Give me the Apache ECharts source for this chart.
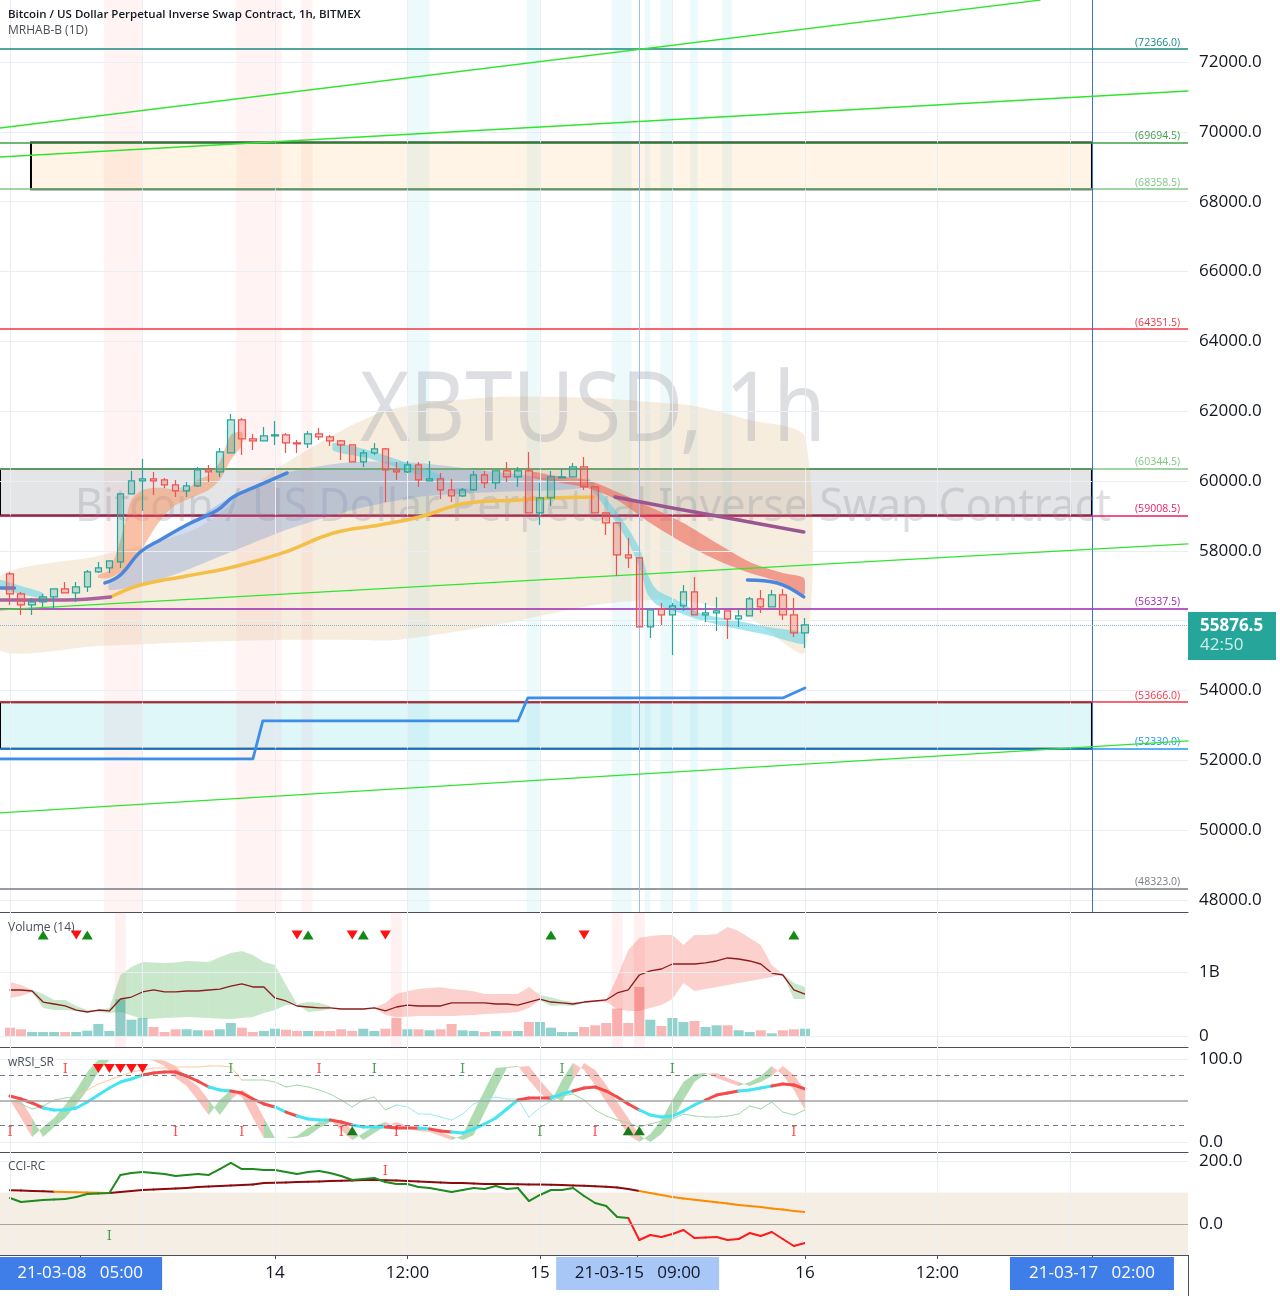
<!DOCTYPE html>
<html>
<head>
<meta charset="utf-8">
<title>XBTUSD 1h</title>
<script src="https://cdn.jsdelivr.net/npm/echarts@6.0.0/dist/echarts.min.js"></script>
<style>
html,body{margin:0;padding:0;background:#ffffff;}
#chart{width:1280px;height:1296px;}
</style>
</head>
<body>
<div id="chart"></div>
<script>
// ================= DATA =================
// hourly candles, index 0 = 21-03-13 00:00 ... index 72 = 21-03-16 00:00
const candleOpen = [57338,56765,56450,56536,56680,56909,56794,56966,57396,57510,57682,59629,60001,60059,60030,59887,59715,59858,60317,60259,60803,61748,61204,61147,61290,61319,61090,61061,61347,61262,61147,61032,60545,60803,60918,60317,60259,60460,60001,60059,59744,59572,59744,60173,59944,60288,60116,60288,59085,59515,60087,60116,60402,59830,59085,58799,57883,57797,55821,56336,56164,56422,56822,56164,56222,56279,56050,56136,56622,56393,56737,56164,55649];
const candleClose = [56765,56450,56536,56680,56909,56794,56966,57396,57510,57711,59629,60001,60059,60001,59887,59715,59858,60317,60259,60832,61748,61204,61147,61290,61319,61090,61061,61347,61262,61147,61032,60545,60803,60918,60317,60259,60460,60030,60059,59744,59572,59744,60173,59944,60288,60116,60288,59085,59515,60116,60116,60402,59830,59085,58799,57883,57797,55821,56308,56164,56422,56822,56164,56222,56279,56050,56136,56622,56393,56737,56164,55649,55876.5];
const candleLow = [56450,56164,56164,56393,56308,56794,56536,56822,57367,57367,57510,59629,59142,59600,59801,59543,59543,59830,59973,60116,60803,60746,60889,61147,61032,60803,60803,60946,61176,61004,60603,60545,60402,60746,59400,60030,60231,59830,60001,59486,59400,59543,59715,59801,59772,59973,59830,59085,58742,59286,60087,60116,59744,59085,58456,57281,57510,55821,55506,55878,55020,56279,56164,55964,55707,55478,55821,56136,56222,56393,56022,55535,55220];
const candleHigh = [57396,56822,56651,56765,56909,57109,57109,57453,57682,57711,59629,60288,60631,60259,60087,60030,59973,60402,60460,60946,61920,61806,61347,61548,61720,61376,61176,61433,61519,61319,61176,61032,60889,61090,60946,60545,60574,60545,60574,60231,60059,59801,60288,60288,60288,60545,60402,60832,59944,60288,60345,60517,60689,59830,59085,58799,58369,57797,56308,56508,56508,57023,57252,56508,56680,56279,56336,56680,56880,56880,56909,56651,56079];
const lastPrice = 55876.5;
const countdown = '42:50';

// volume (millions of contracts) and its average band
const volumeM = [130,105,62,62,62,62,62,83,188,78,573,255,281,141,62,105,105,89,89,105,203,130,62,78,114,98,78,78,78,78,105,78,114,78,114,281,105,105,89,105,188,89,78,62,78,78,78,219,219,130,62,62,141,167,203,427,203,766,255,156,281,219,234,141,167,167,89,62,89,42,89,105,114];
const volumeMA = [719,719,703,531,500,469,406,375,406,391,578,609,688,719,688,688,703,703,719,734,781,813,766,766,594,547,469,453,438,438,422,422,422,438,391,453,484,469,469,469,516,516,516,516,500,500,484,531,578,531,516,500,531,547,563,672,719,953,1016,1047,1125,1125,1125,1141,1172,1219,1203,1172,1125,984,953,719,656];
const volBandUp = [844,797,719,656,563,563,469,406,406,438,953,1078,1156,1150,1141,1150,1172,1165,1156,1230,1297,1328,1266,1156,1109,797,500,531,516,469,null,null,null,438,516,656,700,734,750,760,734,720,700,656,656,656,656,766,640,600,560,530,540,560,563,922,1344,1531,1563,1578,1578,1422,1578,1578,1594,1703,1641,1531,1422,1109,969,828,766];
const volBandLo = [594,625,688,438,406,406,391,375,375,359,375,320,266,270,280,290,297,290,280,270,266,280,297,359,406,484,500,375,391,422,null,null,null,438,328,297,300,313,313,313,313,320,330,344,350,360,375,438,560,470,480,470,520,530,531,422,391,391,438,484,578,828,703,734,766,797,828,859,891,922,969,578,578];
const volBandColor = 'rrr' + 'ggggggggggggggggggggggggggg' + 'nnnn' + 'rrrrrrrrrrrrrrr' + 'gggg' + 'rrrrrrrrrrrrrrrrrr' + 'gg';
const volUpMarks = [3, 7, 27, 32, 49, 71];
const volDownMarks = [6, 26, 31, 34, 52];

// wRSI_SR
const wrsiWave = [50.6,28.9,6.0,18.1,28.9,44.6,62.7,84.3,99,100,100,100,100,98,91.6,77.1,67.5,50.6,32.5,50.6,62.7,54.2,28.9,4.8,4.8,4.8,7.2,16.9,24.1,26.5,14.5,2.4,10.8,19.3,24.1,19.3,16.9,13.3,12.0,7.2,2.4,8.4,36.1,62.7,89.2,90.4,91.6,74.7,59.0,48.2,74.7,95.2,86.7,68.7,48.2,28.9,8.4,0,9.6,26.5,50.6,72.3,81.9,83.1,77.1,72.3,67.5,72.3,79.5,91.6,80.7,62.7,38.6];
const wrsiThick = [55.4,51.8,47.0,41.0,38.6,38.6,41.0,48.2,56.6,65.1,72.3,75.9,80.7,83.1,84.3,84.3,79.5,73.5,66.3,62.7,61.4,59.0,51.8,45.8,42.2,36.1,31.3,27.7,26.5,26.5,24.1,20.5,18.1,18.1,18.1,16.9,16.9,16.9,15.7,13.3,12.0,10.8,15.7,21.7,28.9,39.8,50.6,53.0,53.0,53.0,57.8,61.4,65.1,66.3,61.4,54.2,45.8,38.6,32.5,30.1,31.3,37.3,44.6,50.6,56.6,59.0,61.4,62.7,65.1,67.5,69.9,68.7,63.9];
const wrsiThickColor = 'c' + 'rrr' + 'ccccccccc' + 'rrrrrr' + 'cc' + 'rrrr' + 'c' + 'r' + 'ccc' + 'rr' + 'ccc' + 'rrr' + 'c' + 'rr' + 'cccccc' + 'rrr' + 'cc' + 'rrrrrr' + 'cccccc' + 'rrr' + 'ccc' + 'rrr';
const wrsiThin = [50.6,45.8,39.8,43.4,50.6,53.0,54.2,62.7,69.9,74.7,79.5,84.3,86.7,89.2,89.2,90.4,90.4,90.4,91.6,91.6,90.4,74.7,74.7,74.7,72.3,66.3,68.7,66.3,62.7,57.8,50.6,42.2,50.6,54.2,38.6,44.6,42.2,33.7,33.7,30.1,26.5,33.7,45.8,50.6,54.2,51.8,51.8,30.1,41.0,49.4,55.4,57.8,50.6,38.6,31.3,26.5,22.9,18.1,21.7,25.3,27.7,33.7,31.3,30.1,30.1,31.3,33.7,43.4,39.8,48.2,36.1,32.5,38.6];
const wrsiThinColor = 'ggggggg' + 'ooooooooooooooo' + 'gggggggggggggg' + 'cccccccccccccc' + 'ggggggggggggggggggggggg';
const wrsiRedITop = [5, 28];
const wrsiRedIBottom = [0, 15, 21, 30, 35, 53, 71];
const wrsiGreenITop = [20, 33, 41, 50, 60];
const wrsiGreenIBottom = [48];
const wrsiDownMarks = [8, 9, 10, 11, 12];
const wrsiUpMarks = [31, 56, 57];

// CCI-RC
const cciSlow = [107.3,106.0,104.8,103.8,102.5,101.6,101.0,100.0,99.4,98.4,101.6,104.8,107.9,109.5,111.1,112.7,114.3,117.5,119.0,120.6,122.2,123.8,125.4,130.2,130.8,131.7,133.3,134.0,134.9,136.5,137.1,138.1,139.7,139.7,139.0,138.1,136.5,134.9,133.3,131.7,130.2,130.2,128.6,127.0,127.0,127.0,126.0,125.4,125.1,124.4,123.8,122.5,121.3,119.7,118.4,115.9,111.1,104.8,98.4,92.1,85.7,81.0,76.8,73.0,68.9,65.1,60.3,57.1,54.0,49.2,46.0,41.3,38.1];
const cciSlowColor = 'ddddd' + 'ooooo' + 'dddddddddddddddddddddddddddddddddddddddddddddddd' + 'ooooooooooooooo';
const cciFast = [82.5,69.8,73.0,76.2,77.8,79.4,85.7,95.2,96.8,98.4,155.6,161.9,165.1,161.9,158.7,152.4,155.6,158.7,155.6,174.6,193.7,174.6,174.6,171.4,171.4,165.1,158.7,165.1,168.3,161.9,152.4,139.7,142.9,146.0,133.3,127.0,127.0,117.5,114.3,107.9,101.6,107.9,114.3,111.1,120.6,111.1,114.3,73.0,92.1,107.9,107.9,114.3,88.9,66.7,57.1,22.2,19.0,-50.8,-34.9,-41.3,-31.7,-19.0,-44.4,-42.9,-41.3,-50.8,-47.6,-28.6,-38.1,-25.4,-47.6,-69.8,-60.3];
const cciFastColor = 'ggggggggggggggggggggggggggggggggggggggggggggggggggggggggg' + 'rrrrrrrrrrrrrrrr';
const cciRedI = [34];
const cciGreenI = [9];

// price-pane overlays (hour, price)
const cloudHours = [-1, 8, 17, 24, 31, 35, 44, 53, 58, 62, 67, 72];
const cloudUpper = [57252, 57853, 58655, 60316, 61604, 62091, 62406, 62378, 62263, 62148, 61747, 61261];
const cloudLower = [55161, 55276, 55390, 55448, 55448, 55448, 55877, 56450, 56593, 56536, 56077, 55104];
const blueRibHours = [9, 12, 16, 20, 25, 31, 37, 44, 50, 52.5];
const blueRibUpper = [57080, 57968, 58741, 59543, 60230, 60545, 60516, 60259, 60029, 59858];
const blueRibLower = [56880, 57023, 57452, 57968, 58598, 59170, 59543, 59686, 59743, 59829];
const orRibHours = [8, 9, 10, 11, 12, 13, 14, 15, 16, 17, 18, 19, 20, 21];
const orRibUpper = [57309, 57452, 58311, 59457, 59743, 59801, 59801, 59743, 59743, 60029, 60173, 60545, 61318, 61404];
const orRibLower = [57223, 57223, 57395, 57681, 58082, 58598, 59027, 59313, 59457, 59600, 59743, 60029, 60602, 61032];
const cyanAHours = [-1, 1, 3];
const cyanAUpper = [57166, 56995, 56794];
const cyanALower = [56937, 56765, 56651];
const cyanBHours = [29.3, 32.4, 34.7, 37.1, 39.3];
const cyanBUpper = [61089, 60889, 60660, 60402, 60116];
const cyanBLower = [60860, 60660, 60431, 60173, 59915];
const cyanCHours = [52.3, 54.1, 55.9, 57.1, 57.7, 58.6, 60.4, 62.5, 65.5, 68.6, 71.9];
const cyanCUpper = [60115, 59457, 58684, 58025, 57366, 56880, 56593, 56221, 56020, 55820, 55648];
const cyanCLower = [59944, 59170, 58311, 57452, 56794, 56450, 56249, 56020, 55791, 55591, 55333];
const redRibHours = [47.4, 48.9, 52.3, 55.0, 58.0, 61.0, 64.0, 67.0, 70.0, 71.9];
const redRibUpper = [60259, 60173, 60029, 59686, 59256, 58798, 58225, 57681, 57366, 57223];
const redRibLower = [60087, 60001, 59801, 59457, 58798, 58225, 57738, 57366, 57080, 56737];
const blueLine1Hours = [-1, 0.4];
const blueLine1 = [56937, 56937];
const blueLine2Hours = [8.6, 10, 11.8, 13.6, 16, 18.8, 20.2, 22, 25.1];
const blueLine2 = [57080, 57309, 57968, 58311, 58741, 59170, 59543, 59801, 60230];
const blueLine3Hours = [66.8, 69.5, 71.9];
const blueLine3 = [57166, 57080, 56679];
const yellowHours = [9.1, 11.8, 16, 20.2, 24.7, 29.3, 33.5, 37.1, 41.4, 46.2, 48.9, 52.8];
const yellowLine = [56679, 57023, 57280, 57538, 57939, 58512, 58741, 58970, 59371, 59457, 59514, 59543];
const purple1Hours = [-1, 5, 9.1];
const purple1 = [56594, 56594, 56679];
const purple2Hours = [54.8, 59.5, 65.5, 71.9];
const purple2 = [59543, 59256, 58913, 58541];

// drawings
const levelPrices = [72366.0, 69694.5, 68358.5, 64351.5, 60344.5, 59008.5, 56337.5, 53666.0, 52330.0, 48323.0];
const levelColors = ['#17897e', '#43a047', '#81c784', '#f23645', '#81c784', '#e91e63', '#9c27b0', '#f23645', '#2196f3', '#787b86'];
const rectStart = [1.9, -2, -2];
const rectEnd = [98, 98, 98];
const rectTop = [69694.5, 60344.5, 53666.0];
const rectBottom = [68358.5, 59008.5, 52330.0];
const trendAHours = [-0.906, 93.3];
const trendA = [70110, 73775];
const trendHours = [-0.906, 106.7];
const trendB = [69279, 71170];
const trendC = [56307, 58197];
const trendD = [50494, 52556];
const stepHours = [-0.906, 22.0, 22.9, 46.0, 46.9, 70.0, 72.0];
const stepPrices = [52040, 52040, 53128, 53128, 53787, 53787, 54073];
const pinkBands = [[8.5, 12.0], [20.5, 24.6], [26.4, 27.4]];
const cyanBands = [[36.0, 38.0], [46.8, 48.0], [54.5, 56.3], [57.5, 58.0], [58.9, 60.0], [61.6, 62.3], [64.5, 65.4]];
const volPinkBands = [[9.5, 10.5], [34.5, 35.5], [54.5, 55.5], [56.5, 57.5]];
const cursorHour = 57;
const markerHour = 98;

// axes ticks
const priceTicks = [48000, 50000, 52000, 54000, 56000, 58000, 60000, 62000, 64000, 66000, 68000, 70000, 72000];
const volTicks = [0, 1000];
const wrsiTicks = [0, 100];
const cciTicks = [0, 200];
const gridHours = [0, 12, 24, 36, 48, 60, 72, 84, 96];
const timeTickHours = [6.35, 24, 36, 48, 56.85, 72, 84, 98];
const timeTickLabels = ['21-03-08   05:00', '14', '12:00', '15', '21-03-15   09:00', '16', '12:00', '21-03-17   02:00'];
const timeTickStyle = ['dark', 'p', 'p', 'p', 'light', 'p', 'p', 'dark'];

// ================= CHART =================
const FONT = '"Open Sans", "Noto Sans", sans-serif';
const XMIN = -0.906, XMAX = 106.7;
const chart = echarts.init(document.getElementById('chart'), null, {renderer: 'canvas'});

function pairs(hs, vs) { return hs.map((h, i) => [h, vs[i]]); }
function lineS(p, hs, vs, color, width, z, smooth, type) {
  return {type: 'line', xAxisIndex: p, yAxisIndex: p, data: pairs(hs, vs), symbol: 'none', silent: true,
    smooth: smooth || 0, lineStyle: {color: color, width: width, cap: 'round', join: 'round', type: type || 'solid'}, z: z, clip: true};
}
function bandS(p, hs, up, lo, color, z) {
  return {type: 'custom', xAxisIndex: p, yAxisIndex: p, silent: true, z: z, clip: true,
    data: [[hs[0], up[0]]],
    renderItem: function (params, api) {
      const pts = [];
      for (let i = 0; i < hs.length; i++) pts.push(api.coord([hs[i], up[i]]));
      for (let i = hs.length - 1; i >= 0; i--) pts.push(api.coord([hs[i], lo[i]]));
      return {type: 'polygon', shape: {points: pts, smooth: 0.25}, style: {fill: color}};
    }};
}
function segLine(p, vals, codes, cmap, width, z) {
  const d = [];
  for (let i = 1; i < vals.length; i++) d.push([i, vals[i]]);
  return {type: 'custom', xAxisIndex: p, yAxisIndex: p, silent: true, z: z, clip: true, data: d,
    renderItem: function (params, api) {
      const i = api.value(0);
      const a = api.coord([i - 1, vals[i - 1]]), b = api.coord([i, vals[i]]);
      return {type: 'line', shape: {x1: a[0], y1: a[1], x2: b[0], y2: b[1]},
        style: {stroke: cmap[codes[i]], lineWidth: width, lineCap: 'round'}};
    }};
}
function barBand(p, up, lo, codes, cmap, z) {
  const d = [];
  for (let i = 1; i < up.length; i++) if (codes[i] !== 'n' && up[i] != null && up[i - 1] != null) d.push([i, up[i]]);
  return {type: 'custom', xAxisIndex: p, yAxisIndex: p, silent: true, z: z, clip: true, data: d,
    renderItem: function (params, api) {
      const i = api.value(0);
      const pts = [api.coord([i - 1, up[i - 1]]), api.coord([i, up[i]]), api.coord([i, lo[i]]), api.coord([i - 1, lo[i - 1]])];
      return {type: 'polygon', shape: {points: pts}, style: {fill: cmap[codes[i]]}};
    }};
}
function lagRibbon(p, a, green, red, z) {
  const d = [];
  for (let i = 1; i < a.length; i++) d.push([i, a[i]]);
  return {type: 'custom', xAxisIndex: p, yAxisIndex: p, silent: true, z: z, clip: true, data: d,
    renderItem: function (params, api) {
      const i = api.value(0);
      const prev2 = a[Math.max(i - 2, 0)];
      const pts = [api.coord([i - 1, a[i - 1]]), api.coord([i, a[i]]), api.coord([i, a[i - 1]]), api.coord([i - 1, prev2])];
      return {type: 'polygon', shape: {points: pts}, style: {fill: a[i] >= a[i - 1] ? green : red}};
    }};
}
function markS(p, hs, yv, symbol, rot, color, size, z) {
  return {type: 'scatter', xAxisIndex: p, yAxisIndex: p, silent: true, z: z, symbol: symbol, symbolRotate: rot,
    symbolSize: size, data: hs.map(h => [h, yv]), itemStyle: {color: color, opacity: 1}};
}
function letterS(p, hs, yv, color, z) {
  return {type: 'scatter', xAxisIndex: p, yAxisIndex: p, silent: true, z: z, symbol: 'rect', symbolSize: 1,
    data: hs.map(h => [h, yv]), itemStyle: {color: 'rgba(0,0,0,0)'},
    label: {show: true, position: 'inside', formatter: 'I', color: color, fontSize: 13, fontFamily: '"DejaVu Serif", serif'}};
}
function gridS(p, yTicks) {
  const d = gridHours.map(h => ({xAxis: h}));
  yTicks.forEach(v => d.push({yAxis: v}));
  return {type: 'line', xAxisIndex: p, yAxisIndex: p, data: [], z: 0, silent: true,
    markLine: {silent: true, symbol: 'none', animation: false, label: {show: false},
      lineStyle: {color: '#e9eef4', width: 1, type: 'solid'}, emphasis: {disabled: true}, data: d}};
}

const xAxes = [0, 1, 2, 3].map(i => ({
  type: 'value', gridIndex: i, min: XMIN, max: XMAX, position: 'bottom',
  splitLine: {show: false},
  axisLine: {show: true, onZero: false, lineStyle: {color: '#4a4e5a', width: 1.2}},
  axisTick: i === 3 ? {show: true, customValues: timeTickHours, length: 4, lineStyle: {color: '#4a4e5a'}} : {show: false},
  axisLabel: i === 3 ? {
    show: true, customValues: timeTickHours, margin: 2, fontFamily: FONT,
    formatter: function (v) {
      const k = timeTickHours.indexOf(v);
      return '{' + timeTickStyle[k] + '|' + timeTickLabels[k] + '}';
    },
    rich: {
      p: {color: '#131722', fontSize: 17, height: 33, lineHeight: 33, fontFamily: FONT},
      dark: {color: '#ffffff', backgroundColor: '#3f7ee8', fontSize: 17, height: 33, lineHeight: 33, width: 164, align: 'center', fontFamily: FONT},
      light: {color: '#131722', backgroundColor: '#a8c6f6', fontSize: 17, height: 33, lineHeight: 33, width: 163, align: 'center', fontFamily: FONT}
    }
  } : {show: false}
}));

function yAx(i, min, max, ticks, fmt) {
  return {type: 'value', gridIndex: i, min: min, max: max, position: 'right', splitLine: {show: false},
    axisLine: {show: true, lineStyle: {color: '#4a4e5a', width: 1}},
    axisTick: {show: true, customValues: ticks, length: 5, lineStyle: {color: '#4a4e5a'}},
    axisLabel: {show: true, customValues: ticks, margin: 11, color: '#131722', fontSize: 17, fontFamily: FONT, formatter: fmt}};
}
const yAxes = [
  yAx(0, 47656, 73776, priceTicks, v => v.toFixed(1)),
  yAx(1, -171.9, 1937.5, volTicks, v => (v >= 1000 ? '1B' : '0')),
  yAx(2, -12.05, 114.46, wrsiTicks, v => v.toFixed(1)),
  yAx(3, -98.4, 228.6, cciTicks, v => v.toFixed(1))
];

const idx = candleOpen.map((_, i) => i);
const series = [];

// grid lines
series.push(gridS(0, priceTicks), gridS(1, volTicks), gridS(2, wrsiTicks), gridS(3, [200]));

// background highlight bands
series.push({type: 'line', xAxisIndex: 0, yAxisIndex: 0, data: [], z: 0, silent: true,
  markArea: {silent: true, animation: false, data:
    pinkBands.map(b => [{xAxis: b[0], itemStyle: {color: 'rgba(255,82,82,0.07)'}}, {xAxis: b[1]}])
      .concat(cyanBands.map(b => [{xAxis: b[0], itemStyle: {color: 'rgba(0,188,212,0.07)'}}, {xAxis: b[1]}]))}});
series.push({type: 'line', xAxisIndex: 1, yAxisIndex: 1, data: [], z: 0, silent: true,
  markArea: {silent: true, animation: false, data: volPinkBands.map(b => [{xAxis: b[0], itemStyle: {color: 'rgba(255,82,82,0.08)'}}, {xAxis: b[1]}])}});

// price overlays
series.push(bandS(0, cloudHours, cloudUpper, cloudLower, 'rgba(225,190,140,0.28)', 1));
series.push(bandS(0, blueRibHours, blueRibUpper, blueRibLower, 'rgba(110,150,215,0.33)', 3));
series.push(bandS(0, orRibHours, orRibUpper, orRibLower, 'rgba(244,150,100,0.55)', 3));
series.push(bandS(0, cyanAHours, cyanAUpper, cyanALower, 'rgba(90,210,225,0.55)', 3));
series.push(bandS(0, cyanBHours, cyanBUpper, cyanBLower, 'rgba(90,210,225,0.55)', 3));
series.push(bandS(0, cyanCHours, cyanCUpper, cyanCLower, 'rgba(90,210,225,0.55)', 3));
series.push(bandS(0, redRibHours, redRibUpper, redRibLower, 'rgba(236,100,85,0.6)', 3));

// rectangles
series.push({type: 'line', xAxisIndex: 0, yAxisIndex: 0, data: [], z: 4, silent: true,
  markArea: {silent: true, animation: false, data: [
    [{coord: [rectStart[0], rectTop[0]], itemStyle: {color: 'rgba(255,152,0,0.1)', borderColor: '#000', borderWidth: 2}}, {coord: [rectEnd[0], rectBottom[0]]}],
    [{coord: [rectStart[1], rectTop[1]], itemStyle: {color: 'rgba(120,123,134,0.2)', borderColor: '#000', borderWidth: 2}}, {coord: [rectEnd[1], rectBottom[1]]}],
    [{coord: [rectStart[2], rectTop[2]], itemStyle: {color: 'rgba(0,188,212,0.12)', borderColor: '#000', borderWidth: 2}}, {coord: [rectEnd[2], rectBottom[2]]}]
  ]}});

// trend lines & moving lines
series.push(lineS(0, trendAHours, trendA, '#2ee62e', 1.3, 5));
[trendB, trendC, trendD].forEach(t => series.push(lineS(0, trendHours, t, '#2ee62e', 1.3, 5)));
series.push(lineS(0, stepHours, stepPrices, '#3d8ee8', 2.8, 5));
series.push(lineS(0, yellowHours, yellowLine, '#f4bf48', 3.5, 5, 0.4));
series.push(lineS(0, purple1Hours, purple1, '#a8649c', 3.5, 5, 0.4));
series.push(lineS(0, purple2Hours, purple2, '#9b5590', 3.5, 5, 0.4));
series.push(lineS(0, blueLine1Hours, blueLine1, '#4a86dc', 3.5, 5));
series.push(lineS(0, blueLine2Hours, blueLine2, '#4a86dc', 3.5, 5, 0.4));
series.push(lineS(0, blueLine3Hours, blueLine3, '#4a86dc', 3.5, 5, 0.4));

// level lines, vertical marker lines, last price
const levelItems = levelPrices.map((p, i) => ({
  yAxis: p, lineStyle: {color: levelColors[i], width: 1.5, type: 'solid', opacity: 1},
  label: {show: true, position: 'insideEndTop', distance: [8, 1], formatter: '(' + p.toFixed(1) + ')',
    color: levelColors[i], fontSize: 10.5, fontFamily: FONT}
}));
levelItems.push({xAxis: cursorHour, lineStyle: {color: '#9dbcf5', width: 1, type: 'solid'}, label: {show: false}});
levelItems.push({xAxis: markerHour, lineStyle: {color: '#3b6fd1', width: 1, type: 'solid'}, label: {show: false}});
levelItems.push({yAxis: lastPrice, lineStyle: {color: '#8fb3c8', width: 1, type: 'dotted'},
  label: {show: true, position: 'end', distance: 0, offset: [0, 11], backgroundColor: '#26a69a',
    padding: [5, 10, 5, 12], width: 66,
    formatter: '{a|' + lastPrice.toFixed(1) + '}\n{b|' + countdown + '}',
    rich: {a: {color: '#ffffff', fontSize: 17, fontWeight: 'bold', lineHeight: 19, fontFamily: FONT},
           b: {color: '#cdeee9', fontSize: 17, lineHeight: 19, fontFamily: FONT}}}});
series.push({type: 'line', xAxisIndex: 0, yAxisIndex: 0, data: [], z: 6, silent: true,
  markLine: {silent: true, symbol: 'none', animation: false, emphasis: {disabled: true}, data: levelItems}});

// candles
series.push({type: 'candlestick', xAxisIndex: 0, yAxisIndex: 0, z: 7, barWidth: 7, silent: true,
  encode: {x: 0, y: [1, 2, 3, 4]},
  data: idx.map(i => [i, candleOpen[i], candleClose[i], candleLow[i], candleHigh[i]]),
  itemStyle: {color: 'rgba(38,166,154,0.28)', color0: 'rgba(239,83,80,0.28)', borderColor: '#26a69a', borderColor0: '#ef5350', borderWidth: 1.2}});

// volume pane
series.push(barBand(1, volBandUp, volBandLo, volBandColor, {g: 'rgba(76,175,80,0.3)', r: 'rgba(244,67,54,0.25)'}, 2));
series.push({type: 'bar', xAxisIndex: 1, yAxisIndex: 1, barWidth: 10, z: 3, silent: true,
  data: idx.map(i => ({value: [i, volumeM[i]], itemStyle: {color: candleClose[i] >= candleOpen[i] ? 'rgba(38,166,154,0.5)' : 'rgba(239,83,80,0.42)'}}))});
series.push(lineS(1, idx, volumeMA, '#8b1c1c', 1.3, 4));
series.push(markS(1, volUpMarks, 1578, 'triangle', 0, '#138a13', [11, 9], 6));
series.push(markS(1, volDownMarks, 1578, 'triangle', 180, '#ff1111', [11, 9], 6));

// wRSI pane
series.push({type: 'line', xAxisIndex: 2, yAxisIndex: 2, data: [], z: 1, silent: true,
  markLine: {silent: true, symbol: 'none', animation: false, label: {show: false}, data: [
    {yAxis: 80, lineStyle: {color: '#787b86', type: [5, 4], width: 1}},
    {yAxis: 20, lineStyle: {color: '#787b86', type: [5, 4], width: 1}},
    {yAxis: 50, lineStyle: {color: '#a3a3a3', type: 'solid', width: 1.6}}]}});
series.push(lagRibbon(2, wrsiWave, 'rgba(76,175,80,0.45)', 'rgba(244,67,54,0.32)', 2));
series.push(segLine(2, wrsiThin, wrsiThinColor, {g: '#a6d8a8', o: '#ffc999', c: '#9ee9f2'}, 1, 3));
series.push(segLine(2, wrsiThick, wrsiThickColor, {c: '#45e4f2', r: '#f44a4a'}, 3, 4));
series.push(letterS(2, wrsiRedITop, 86.7, '#ff2020', 6));
series.push(letterS(2, wrsiRedIBottom, 10.8, '#ff2020', 6));
series.push(letterS(2, wrsiGreenITop, 86.7, '#1f8a1f', 6));
series.push(letterS(2, wrsiGreenIBottom, 10.8, '#1f8a1f', 6));
series.push(markS(2, wrsiDownMarks, 88.5, 'triangle', 180, '#ff1111', [11, 9], 6));
series.push(markS(2, wrsiUpMarks, 13.5, 'triangle', 0, '#1a7a1a', [11, 9], 6));

// CCI pane
series.push({type: 'line', xAxisIndex: 3, yAxisIndex: 3, data: [], z: 0, silent: true,
  markArea: {silent: true, animation: false, data: [[{yAxis: 100, itemStyle: {color: 'rgba(215,195,160,0.28)'}}, {yAxis: -98.4}]]},
  markLine: {silent: true, symbol: 'none', animation: false, label: {show: false}, data: [
    {yAxis: 0, lineStyle: {color: '#a8a49c', type: 'solid', width: 1.2}}]}});
series.push(segLine(3, cciSlow, cciSlowColor, {d: '#8b0a0a', o: '#ff8a00'}, 2, 3));
series.push(segLine(3, cciFast, cciFastColor, {g: '#1f8a1f', r: '#ff1a1a'}, 2, 4));
series.push(letterS(3, cciRedI, 165, '#ff2020', 6));
series.push(letterS(3, cciGreenI, -41, '#1f8a1f', 6));

const option = {
  animation: false,
  backgroundColor: '#ffffff',
  grid: [
    {left: 0, right: 92, top: 0, height: 912, outerBoundsMode: 'none', containLabel: false},
    {left: 0, right: 92, top: 912, height: 135, outerBoundsMode: 'none', containLabel: false},
    {left: 0, right: 92, top: 1047, height: 105, outerBoundsMode: 'none', containLabel: false},
    {left: 0, right: 92, top: 1152, height: 103, outerBoundsMode: 'none', containLabel: false}
  ],
  xAxis: xAxes,
  yAxis: yAxes,
  series: series,
  graphic: [
    {type: 'text', x: 593, y: 413, z: 2, silent: true, scaleY: 1.14,
      style: {text: 'XBTUSD, 1h', fontSize: 85, fontFamily: '"Noto Sans", sans-serif', fill: 'rgba(149,152,161,0.32)', align: 'center', verticalAlign: 'middle'}},
    {type: 'text', x: 593, y: 508, z: 2, silent: true, scaleY: 1.08,
      style: {text: 'Bitcoin / US Dollar Perpetual Inverse Swap Contract', fontSize: 43, fontFamily: '"Noto Sans", sans-serif', fill: 'rgba(149,152,161,0.32)', align: 'center', verticalAlign: 'middle'}},
    {type: 'text', x: 8, y: 15, z: 10, silent: true,
      style: {text: 'Bitcoin / US Dollar Perpetual Inverse Swap Contract, 1h, BITMEX', fontSize: 11.5, fontWeight: 600, fontFamily: FONT, fill: '#131722', verticalAlign: 'middle'}},
    {type: 'text', x: 8, y: 31, z: 10, silent: true,
      style: {text: 'MRHAB-B (1D)', fontSize: 12, fontFamily: FONT, fill: '#4a4e5a', verticalAlign: 'middle'}},
    {type: 'text', x: 8, y: 928, z: 10, silent: true,
      style: {text: 'Volume (14)', fontSize: 12, fontFamily: FONT, fill: '#4a4e5a', verticalAlign: 'middle'}},
    {type: 'text', x: 8, y: 1063, z: 10, silent: true,
      style: {text: 'wRSI_SR', fontSize: 12, fontFamily: FONT, fill: '#4a4e5a', verticalAlign: 'middle'}},
    {type: 'text', x: 8, y: 1167, z: 10, silent: true,
      style: {text: 'CCI-RC', fontSize: 12, fontFamily: FONT, fill: '#4a4e5a', verticalAlign: 'middle'}},
    {type: 'line', z: 10, silent: true, shape: {x1: 1188.5, y1: 1255, x2: 1188.5, y2: 1296}, style: {stroke: '#4a4e5a', lineWidth: 1}}
  ]
};
chart.setOption(option);
</script>
</body>
</html>
